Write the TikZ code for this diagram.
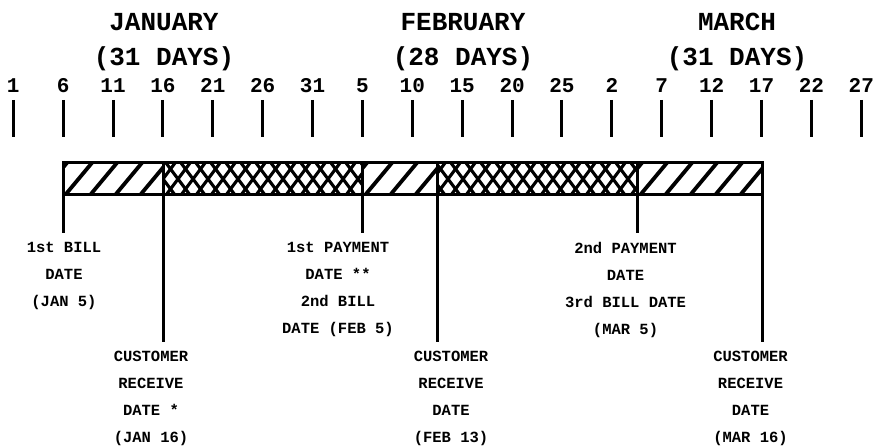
\documentclass[tikz,border=0pt]{standalone}
\usepackage{fontspec}
\newfontfamily\billmono{Liberation Mono}
\usetikzlibrary{positioning, calc}

\begin{document}
\begin{tikzpicture}[x=1pt, y=-1pt,
  month/.style={font=\billmono\bfseries\fontsize{26}{35}\selectfont,
    align=center, inner sep=0pt, anchor=north},
  daynum/.style={font=\billmono\bfseries\fontsize{21}{21}\selectfont,
    inner sep=0pt, anchor=base},
  datelabel/.style={font=\billmono\bfseries\fontsize{15.5}{27}\selectfont,
    align=center, inner sep=0pt, anchor=north},
  tickmark/.style={line width=3pt},
  barline/.style={line width=3pt},
  hatchline/.style={line width=3.8pt},
  crossline/.style={line width=3.1pt},
  dropline/.style={line width=3pt}]

  \useasboundingbox (0,0) rectangle (874,446);

  % Months
  \node[month] (jan) at (164,13) {JANUARY\\(31 DAYS)};
  \node[month] (feb) at (463,13) {FEBRUARY\\(28 DAYS)};
  \node[month] (mar) at (737,13) {MARCH\\(31 DAYS)};

  % Day scale
  \foreach \d [count=\i from 0] in {1,6,11,16,21,26,31,5,10,15,20,25,2,7,12,17,22,27} {
    \node[daynum] (n\i) at (13.3+49.88*\i,93) {\d};
    \draw[tickmark] (n\i.base) ++(0,7) -- ++(0,37);
  }

  % Billing bar
  \coordinate (e1) at (63,163);
  \coordinate (e2) at (163,163);
  \coordinate (e3) at (362,163);
  \coordinate (e4) at (437,163);
  \coordinate (e5) at (637,163);
  \coordinate (e6) at (762,163);
  \begin{scope}
    \clip (e1) rectangle (163,195) (e3) rectangle (437,195) (e5) rectangle (762,195);
    \foreach \x in {11,36,...,761}
      \draw[hatchline] (\x,200) -- ++(35,-42);
  \end{scope}
  \begin{scope}
    \clip (e2) rectangle (362,195) (e4) rectangle (637,195);
    \foreach \x in {130,145,...,640} {
      \draw[crossline] (\x,155) -- ++(36,48);
      \draw[crossline] (\x,203) -- ++(36,-48);
    }
  \end{scope}
  \draw[barline] (e1) rectangle (762,195);

  % Dates
  \node[datelabel] (bill1) at (64,242) {1st BILL\\DATE\\(JAN 5)};
  \node[datelabel] (recv1) at (151,351) {CUSTOMER\\RECEIVE\\DATE *\\(JAN 16)};
  \node[datelabel] (pay1) at (338,242) {1st PAYMENT\\DATE **\\2nd BILL\\DATE (FEB 5)};
  \node[datelabel] (recv2) at (451,351) {CUSTOMER\\RECEIVE\\DATE\\(FEB 13)};
  \node[datelabel] (pay2) at (625.5,242) {2nd PAYMENT\\DATE\\3rd BILL DATE\\(MAR 5)};
  \node[datelabel] (recv3) at (750.5,351) {CUSTOMER\\RECEIVE\\DATE\\(MAR 16)};

  \draw[dropline] (e1) -- ($(bill1.north -| e1)+(0,-9)$);
  \draw[dropline] (e2) -- ($(recv1.north -| e2)+(0,-9)$);
  \draw[dropline] (e3) -- ($(pay1.north -| e3)+(0,-9)$);
  \draw[dropline] (e4) -- ($(recv2.north -| e4)+(0,-9)$);
  \draw[dropline] (e5) -- ($(pay2.north -| e5)+(0,-9)$);
  \draw[dropline] (e6) -- ($(recv3.north -| e6)+(0,-9)$);
\end{tikzpicture}
\end{document}
